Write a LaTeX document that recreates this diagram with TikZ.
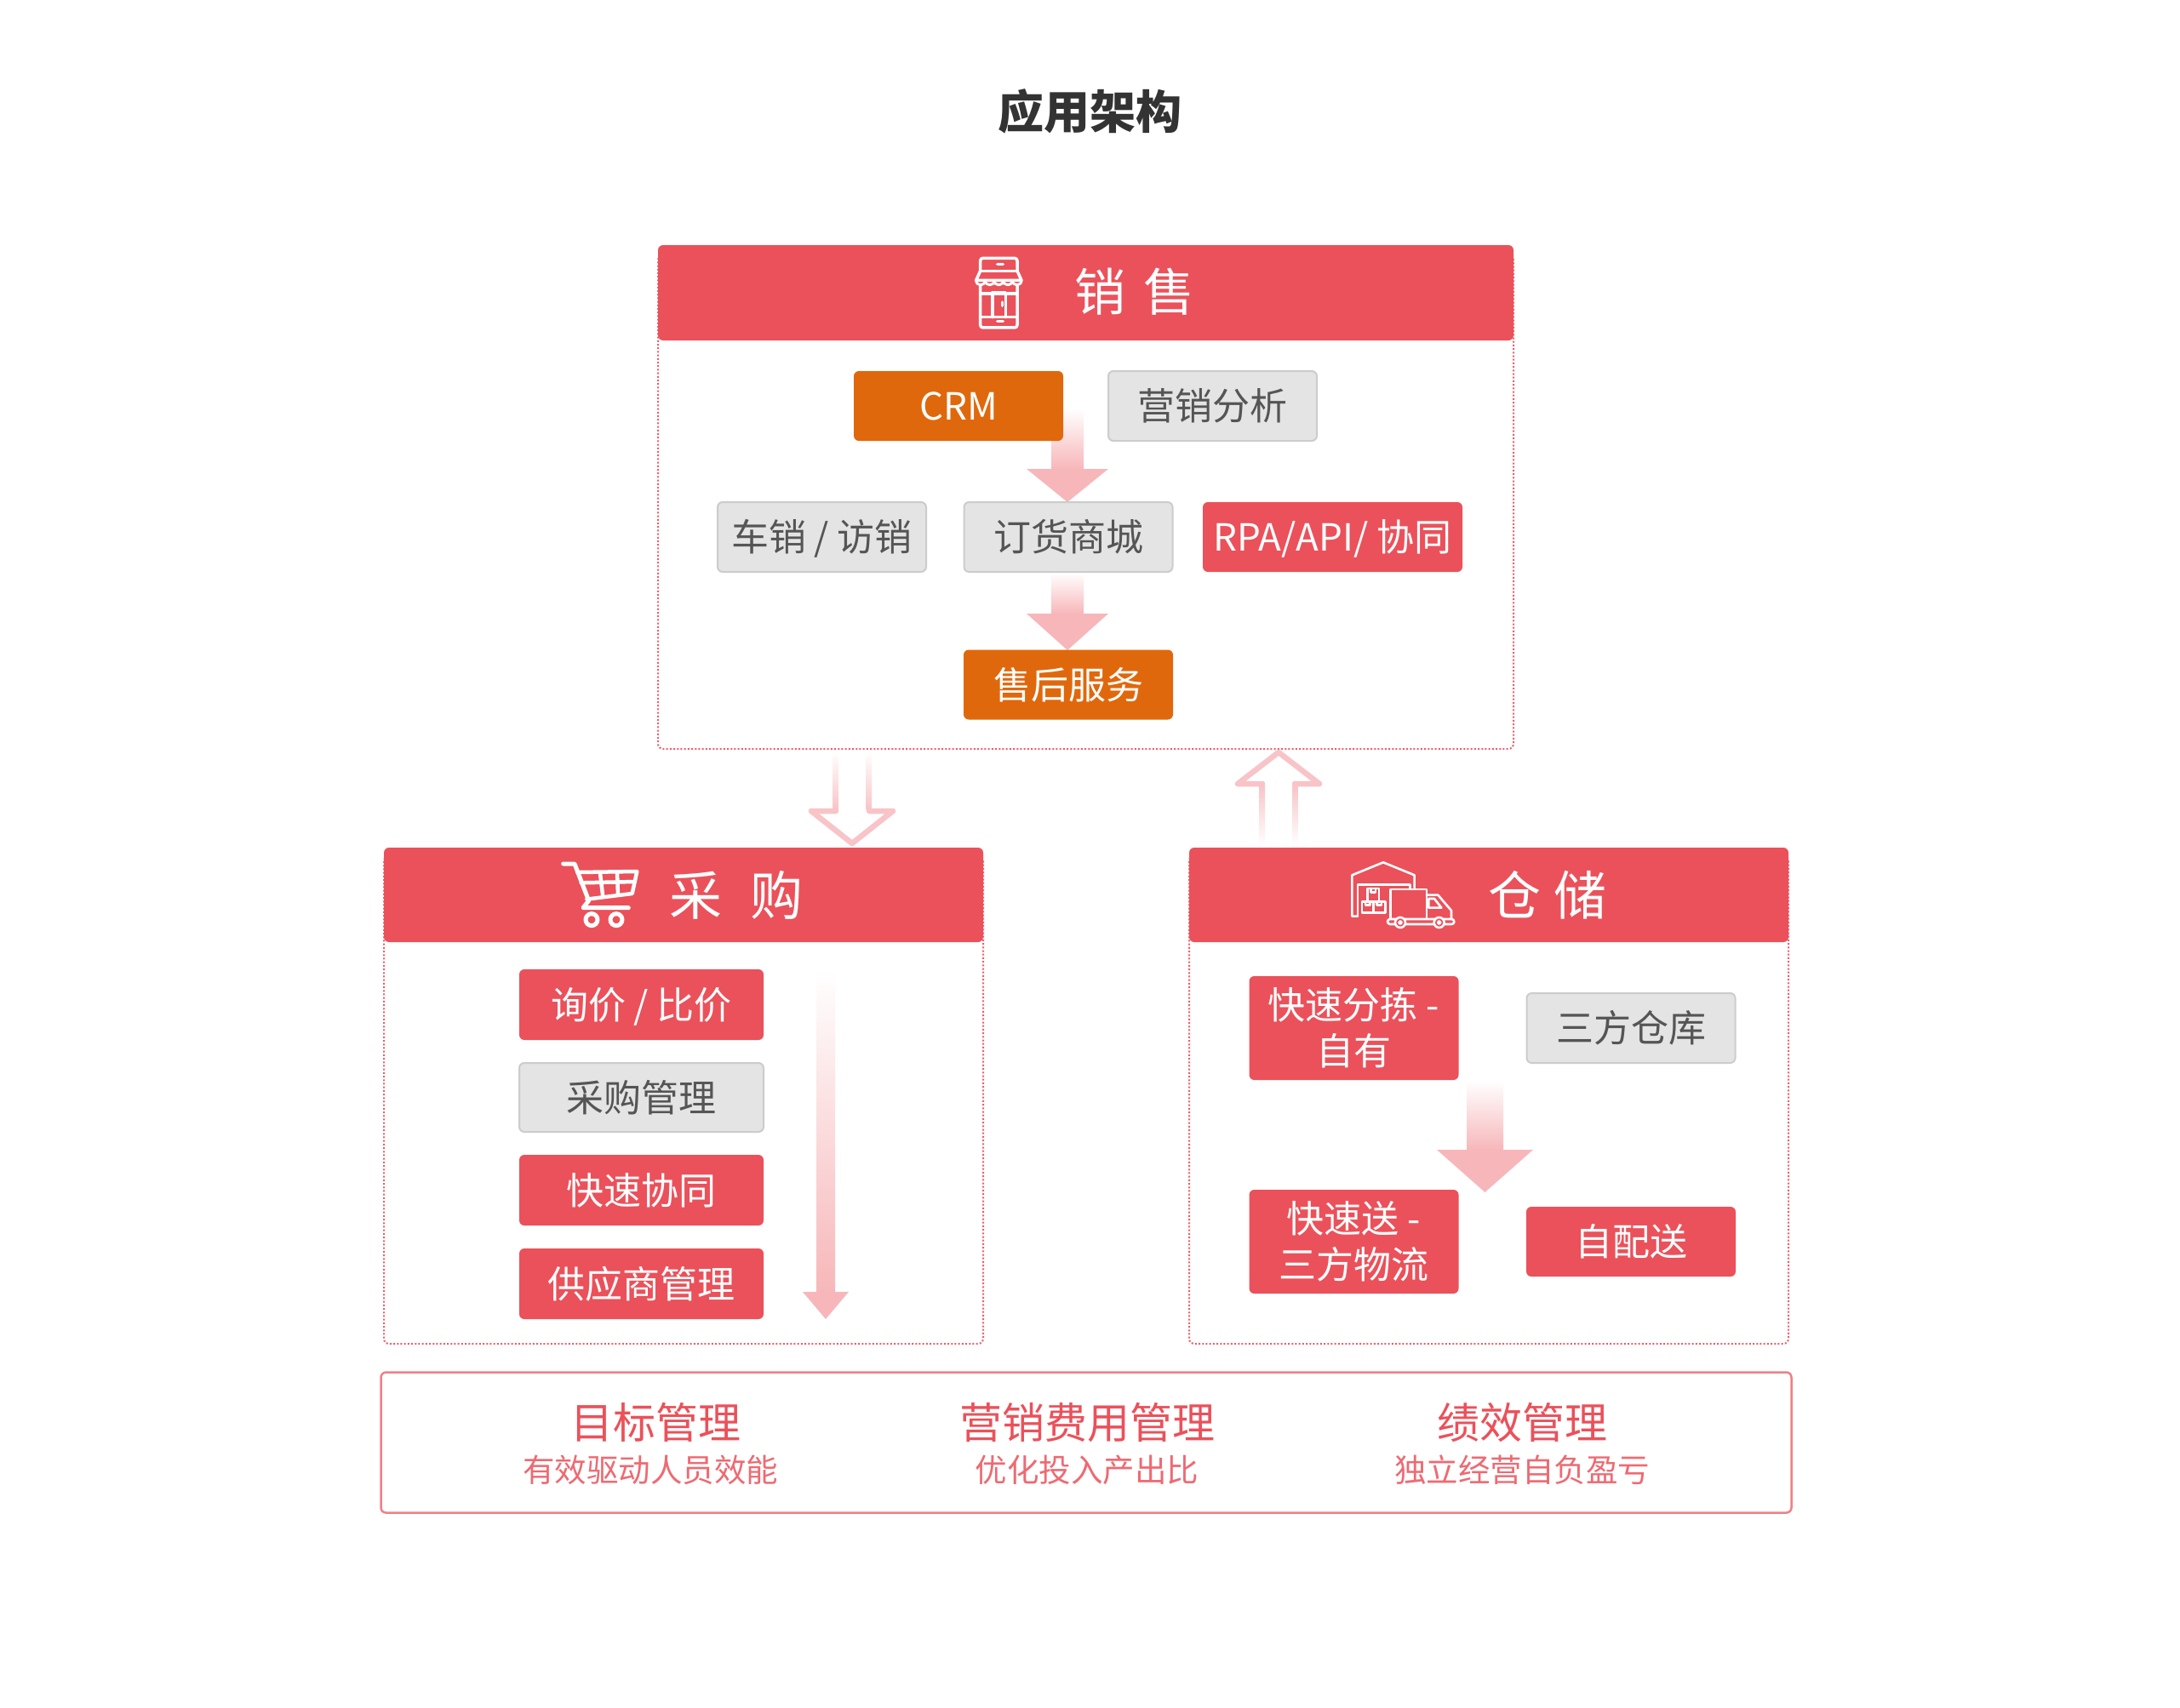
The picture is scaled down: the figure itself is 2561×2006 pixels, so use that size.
\documentclass[tikz,border=0pt]{standalone}
\usepackage{fontspec}
\setmainfont{Noto Sans CJK SC}
\usetikzlibrary{calc,backgrounds}
\definecolor{hdred}{HTML}{EB515A}
\definecolor{orangebox}{HTML}{E0680C}
\definecolor{greyfill}{HTML}{E4E4E4}
\definecolor{greyline}{HTML}{CCCCCC}
\definecolor{greytext}{HTML}{555555}
\definecolor{arrowpink}{HTML}{F7B7BA}
\definecolor{hollowpink}{HTML}{F8C4C7}
\definecolor{dotred}{HTML}{EE5F69}
\definecolor{frameline}{HTML}{F08087}
\definecolor{subred}{HTML}{EE6A72}
\newcommand\boxfont{\fontsize{44}{54}\selectfont}
\newcommand\headfont{\fontsize{60}{62}\selectfont}
\newcommand\blockarrow[5]{%
  \shade[top color=white,bottom color=arrowpink] ($(#1)+(-#3,0)$) rectangle ($(#2)+(#3,-#5)$);
  \fill[arrowpink] ($(#2)+(-#4,-#5)$) -- (#2) -- ($(#2)+(#4,-#5)$) -- cycle;
}
\tikzset{
  x=1pt,y=-1pt,
  basebox/.style={rectangle,rounded corners=6pt,inner sep=0pt,outer sep=0pt,align=center,font=\boxfont,minimum height=82pt,minimum width=246pt},
  orangebx/.style={basebox,fill=orangebox,text=white},
  redbx/.style={basebox,fill=hdred,text=white},
  greybx/.style={basebox,fill=greyfill,draw=greyline,line width=2pt,text=greytext,minimum width=245pt},
  header/.style={rectangle,rounded corners=6pt,inner sep=0pt,outer sep=0pt,fill=hdred,minimum width=704pt,minimum height=111pt},
  dotbox/.style={rectangle,rounded corners=6pt,inner sep=0pt,outer sep=0pt,draw=dotred,line width=2pt,dash pattern=on 2pt off 2.2pt,minimum width=704pt},
  headtext/.style={text=white,font=\headfont,inner sep=0pt},
  icon/.style={draw=white,line width=3.5pt,line join=round,line cap=round},
  hollow/.style={draw=hollowpink,line width=6.5pt,line join=round,line cap=round},
  maintext/.style={text=hdred,font=\fontsize{50}{54}\selectfont,inner sep=0pt},
  subtext/.style={text=subred,font=\fontsize{37.5}{42}\selectfont,inner sep=0pt},
}
\begin{document}
\begin{tikzpicture}
\useasboundingbox (0,0) rectangle (2561,2006);

% title
\node[text=black!80,font=\fontsize{54}{60}\selectfont\bfseries,inner sep=0pt] (title) at (1280,131) {应用架构};

% sales
\node[dotbox,minimum width=1005pt,minimum height=580pt] (salesbox) at (1275.5,590) {};
\node[header,minimum width=1005pt,minimum height=112pt] (saleshead) at (1275.5,344) {};
\node[headtext] (salestitle) at (1333,343) {销\hspace{22pt}售};
\node[orangebx] (crm) at (1126,477) {CRM};
\node[greybx] (mktg) at (1424.5,477) {营销分析};
\node[greybx] (car) at (965.5,631) {车销 \smash{/} 访销};
\node[greybx] (order) at (1255,631) {订货商城};
\node[redbx,minimum width=305pt] (rpa) at (1565.5,631) {RPA\smash{/}API\smash{/} 协同};
\node[orangebx] (after) at (1255,804.5) {售后服务};

% purchase
\node[dotbox,minimum height=573pt] (purbox) at (803,1292.5) {};
\node[header] (purhead) at (803,1051.5) {};
\node[headtext] (purtitle) at (865,1052) {\fontsize{62}{64}\selectfont 采\hspace{33pt}购};
\node[redbx,minimum width=287pt,minimum height=83pt] (inquiry) at (753.5,1180.5) {询价 \smash{/} 比价};
\node[greybx,minimum width=287pt,minimum height=81pt] (purmgmt) at (753.5,1289.5) {采购管理};
\node[redbx,minimum width=287pt,minimum height=83pt] (collab) at (753.5,1398.5) {快速协同};
\node[redbx,minimum width=287pt,minimum height=83pt] (supplier) at (753.5,1508.5) {供应商管理};

% warehouse
\node[dotbox,minimum height=573pt] (whbox) at (1749,1292.5) {};
\node[header] (whhead) at (1749,1051.5) {};
\node[headtext] (whtitle) at (1818,1052) {\fontsize{62}{64}\selectfont 仓\hspace{15pt}储};
\node[redbx,minimum height=122pt] (sort) at (1590.5,1208) {快速分拣 -\\自有};
\node[greybx,minimum height=82pt] (third) at (1916,1208) {三方仓库};
\node[redbx,minimum height=122pt] (express) at (1590.5,1459) {快速送 -\\三方物流};
\node[redbx,minimum height=82pt] (self) at (1916,1459) {自配送};

% bottom frame
\node[rectangle,rounded corners=6pt,draw=frameline,line width=2.5pt,inner sep=0pt,outer sep=0pt,minimum width=1657pt,minimum height=165pt] (frame) at (1276,1695) {};
\node[maintext] (g1) at (770,1671) {目标管理};
\node[subtext] (s1) at (764,1727) {有效驱动人员效能};
\node[maintext] (g2) at (1277,1671) {营销费用管理};
\node[subtext] (s2) at (1277,1727) {优化投入产出比};
\node[maintext] (g3) at (1788,1671) {绩效管理};
\node[subtext] (s3) at (1788,1727) {独立经营自负盈亏};

% free ends
\coordinate (a1s) at (1254,480);
\coordinate (a1e) at (1254,590);
\coordinate (a2s) at (1254,673);
\coordinate (a2e) at (1254,764);
\coordinate (a3s) at (970,1140);
\coordinate (a3e) at (970,1550);
\coordinate (a4s) at (1744.5,1270);
\coordinate (a4e) at (1744.5,1401);

\begin{scope}[on background layer]
\fill[white] (0,0) rectangle (2561,2006);
\blockarrow{a1s}{a1e}{19}{48}{39}
\blockarrow{a2s}{a2e}{19}{48}{43}
\blockarrow{a3s}{a3e}{11}{27}{32}
\blockarrow{a4s}{a4e}{21.5}{56.5}{50}
\end{scope}

% hollow arrows
\coordinate (h1top) at (1001,883);
\coordinate (h1tip) at (1001,991);
\coordinate (h2top) at (1502,993);
\coordinate (h2tip) at (1502,884);
\shade[top color=white,bottom color=hollowpink] ($(h1top)+(-22.5,0)$) rectangle ($(h1top)+(-16,68)$);
\shade[top color=white,bottom color=hollowpink] ($(h1top)+(16.5,0)$) rectangle ($(h1top)+(23,68)$);
\draw[hollow] ($(h1tip)+(-19,-38)$) -- ($(h1tip)+(-48,-38)$) -- (h1tip) -- ($(h1tip)+(48,-38)$) -- ($(h1tip)+(20,-38)$);
\shade[bottom color=white,top color=hollowpink] ($(h2top)+(-22.5,0)$) rectangle ($(h2top)+(-16,-70)$);
\shade[bottom color=white,top color=hollowpink] ($(h2top)+(16,0)$) rectangle ($(h2top)+(22.5,-70)$);
\draw[hollow] ($(h2tip)+(-19,37)$) -- ($(h2tip)+(-48,37)$) -- (h2tip) -- ($(h2tip)+(48,37)$) -- ($(h2tip)+(19,37)$);

% store icon
\begin{scope}[shift={(1120,290)},x=0.3333pt,y=-0.3333pt]
\draw[icon,rounded corners=3pt] (95,85) -- (95,40) -- (225,40) -- (225,85);
\draw[icon] (95,85) -- (225,85);
\draw[icon] (95,85) -- (80,118) -- (240,118) -- (225,85);
\foreach \i in {0,...,4}{
  \draw[icon,line width=3pt] ({80+32*\i},118) .. controls ({80+32*\i},140) and ({112+32*\i},140) .. ({112+32*\i},118);
}
\draw[icon,rounded corners=3pt] (95,135) -- (95,285) -- (225,285) -- (225,135);
\draw[icon] (95,248) -- (225,248);
\draw[icon] (95,165) -- (225,165);
\draw[icon] (138,248) -- (138,160) -- (185,160) -- (185,248);
\draw[icon] (155,62) -- (175,62);
\draw[icon] (155,262) -- (175,262);
\draw[icon] (172,195) -- (172,208);
\end{scope}

% cart icon
\begin{scope}[shift={(640,1000)},x=0.3333pt,y=-0.3333pt]
\draw[icon,line width=5pt] (65,45) -- (105,45) -- (155,175) -- (135,200) -- (295,200);
\draw[icon,line width=4.5pt] (115,75) -- (325,72) -- (308,150) -- (148,170);
\draw[icon,line width=4.5pt] (128,112) -- (318,108);
\draw[icon,line width=4.5pt] (195,78) -- (205,162);
\draw[icon,line width=4.5pt] (255,76) -- (258,155);
\draw[icon,line width=5pt] (165,242) circle[radius=21];
\draw[icon,line width=5pt] (252,242) circle[radius=21];
\end{scope}

% warehouse and truck icon
\begin{scope}[shift={(1570,1000)},x=0.3333pt,y=-0.3333pt]
\tikzset{icon/.append style={line width=2.6pt}}
\draw[icon] (75,230) -- (55,230) -- (55,85) -- (165,40) -- (275,85) -- (275,130);
\draw[icon] (75,230) -- (75,118) -- (260,118) -- (260,130);
\draw[icon] (90,178) rectangle (130,218);
\draw[icon] (130,178) rectangle (172,218);
\draw[icon] (110,132) rectangle (150,178);
\draw[icon] (122,132) -- (122,145) -- (138,145) -- (138,132);
\draw[icon] (102,178) -- (102,190) -- (118,190) -- (118,178);
\draw[icon] (143,178) -- (143,190) -- (159,190) -- (159,178);
\draw[icon] (190,238) -- (190,135) -- (318,135) -- (318,238);
\draw[icon] (318,155) -- (358,155) -- (405,210) -- (405,240);
\draw[icon] (325,168) -- (345,168) -- (370,200) -- (325,200) -- cycle;
\draw[icon,rounded corners=3pt] (180,240) rectangle (415,258);
\draw[icon,fill=hdred] (225,252) circle[radius=18];
\draw[icon,fill=hdred] (362,252) circle[radius=18];
\draw[icon] (225,252) circle[radius=5];
\draw[icon] (362,252) circle[radius=5];
\end{scope}
\end{tikzpicture}
\end{document}
